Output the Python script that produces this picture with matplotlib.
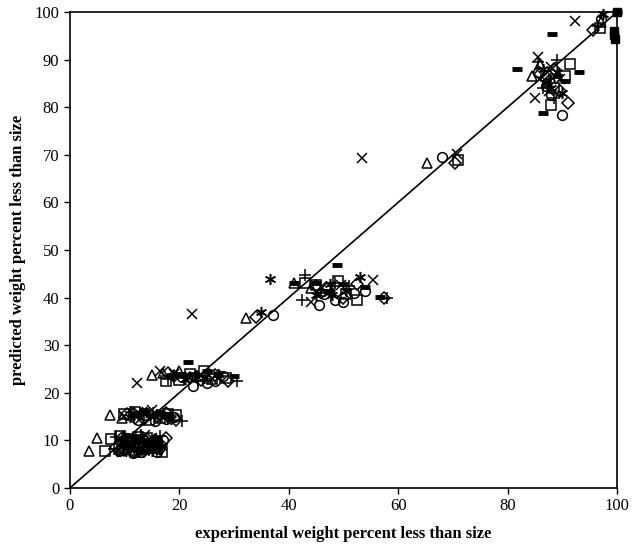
import numpy as np
import matplotlib
matplotlib.use("Agg")
import matplotlib.pyplot as plt

plt.rcParams['font.family'] = ['Liberation Serif', 'DejaVu Serif']

# experimental vs predicted weight percent less than size, one list pair per series
diamond_x = [10, 13.5, 16.5, 8.5, 11.5, 14.8, 11, 14, 17.5, 9.5, 12.8, 15.5,
             12, 16, 19.5, 10.5, 13.5, 17.5, 19, 24, 29, 18, 22, 26.5, 34,
             45, 50, 57.5, 47, 52.5, 70.4, 86, 89.5, 91, 87.5, 88.5, 95.6]
diamond_y = [8.0, 7.8, 8.2, 8.6, 7.6, 8.8, 10.2, 9.8, 10.5, 10.6, 9.6, 10.2,
             14.8, 15.2, 14.2, 15.6, 14.6, 15.8, 23.5, 22.8, 22.5, 24.2, 23.2, 23.8, 36.0,
             42.5, 40.0, 40.0, 41.8, 42.8, 68.3, 87, 83.5, 81, 85.5, 88, 96.2]

square_x = [6.5, 12, 15.5, 9.5, 13.8, 16.8, 7.5, 12.5, 16, 10.8, 14.2, 9.2,
            10, 14.5, 18, 12, 16.5, 19.5, 17.5, 22, 26, 20, 24.5, 28.5,
            43, 49, 52.5, 45, 50.5, 71, 88.5, 90.5, 88, 91.5, 87, 96.9]
square_y = [7.8, 7.5, 8.5, 7.9, 8.4, 7.6, 10.3, 10.8, 9.5, 9.8, 10.6, 11,
            15.5, 14.2, 15.5, 15.9, 14.8, 15.3, 22.5, 24, 23, 22.8, 24.6, 23.1,
            43, 43.5, 39.5, 42.6, 40.8, 68.9, 84, 86.5, 80.5, 89, 86.5, 96.6]

triangle_x = [3.5, 9, 12, 15.8, 5, 10, 11.8, 15, 7.3, 11.5, 9.5, 14,
              15, 20, 17, 23, 32.2, 41, 46, 44, 65.3, 84.5, 86, 97]
triangle_y = [7.8, 8.5, 8.1, 8.4, 10.5, 11, 10.3, 9.9, 15.3, 15.8, 14.8, 15.4,
              23.7, 24.5, 24.1, 23.6, 35.7, 43, 41.5, 42.1, 68.3, 86.5, 89, 98]

cross_x = [11, 14, 9.5, 13, 16, 9, 15, 11.8, 13.8, 12.5, 17, 10, 15,
           12.2, 16.5, 24, 19, 22, 26, 22.3, 47, 55.4, 44, 46, 49.5,
           53.4, 70.7, 85.5, 85, 88, 87.5, 89.5, 92.3]
cross_y = [8.2, 8.8, 7.5, 8.6, 8.1, 10, 10.5, 9.8, 11.1, 16, 15, 15.2, 16.3,
           22, 24.5, 23.8, 24, 23.4, 22.9, 36.6, 41, 43.7, 39, 42.3, 42.6,
           69.3, 70.2, 90.5, 82, 88.5, 83.5, 86, 98.1]

star_x = [12.5, 15, 10.2, 14, 16.8, 10.5, 13, 12, 15.5, 14, 18.5, 11, 16,
          21, 27, 18.8, 24.5, 35, 36.6, 48, 53, 50.5, 45, 47.5,
          87, 89, 90, 88, 86.5, 97.5]
star_y = [8.0, 7.7, 8.2, 9, 8.6, 9.5, 10.5, 10.8, 10, 16, 14.5, 15, 15.6,
          23, 24, 23.5, 23.2, 37, 43.9, 40.5, 44.3, 41.5, 40.5, 42.8,
          85, 87.5, 83, 84, 88, 99.5]

circle_x = [11.5, 16, 9, 13, 15, 13.5, 17, 10.5, 15.8, 15.5, 19, 12.5, 17.5,
            22.5, 28, 25, 20.5, 26.5, 37.1, 45.5, 52, 54, 48.5, 46.5, 50,
            68, 85.5, 90, 88, 87, 97]
circle_y = [7.3, 7.5, 7.8, 7.6, 8.6, 9, 10, 10.6, 9.4, 14, 15, 14.3, 14.5,
            21.5, 23.5, 22, 23.3, 22.4, 36.3, 38.5, 41, 41.5, 39.5, 40.8, 39,
            69.5, 87.5, 78.4, 82.5, 84.5, 98.5]

plus_x = [10.5, 14.5, 8, 12.5, 16, 8.5, 16.5, 10, 13, 13, 20.5, 11.2, 15.2, 18,
          18, 23.5, 30.5, 21, 27.5, 42.4, 43, 51, 58, 46, 48.5,
          85.5, 87.5, 89, 86.5, 88.5, 96.5]
plus_y = [8.8, 8, 8.3, 9.2, 9, 10.8, 11, 10, 11.2, 15.5, 14, 16, 15.8, 14.8,
          23, 22.5, 22.5, 23.2, 23.6, 39.5, 44.7, 42.5, 40, 41, 43,
          89.5, 86, 90, 84, 82, 97]

dash_x = [12, 15, 10, 13.5, 16.5, 11, 14, 9.8, 12.8, 16, 13.5, 16.5, 11.5, 15, 18,
          21.6, 20, 25, 30, 18.5, 22.5, 27, 48.8, 56.7, 54, 41, 45, 47.5, 50,
          81.7, 88.1, 86.5, 93, 90.5, 89, 100]
dash_y = [8.3, 9, 8.8, 7.5, 8.8, 11, 10, 10.4, 10.2, 10.8, 16.3, 16, 15.5, 15.2, 15.6,
          26.5, 24, 24.5, 23.5, 23.6, 23.9, 23.8, 46.8, 40.1, 42.2, 43, 43, 41.5, 42.8,
          88, 95.4, 78.8, 87.5, 85.5, 86.5, 100]

filled_x = [99.4, 99.6, 99.5, 100]
filled_y = [95.2, 94.4, 96.0, 100]

fig = plt.figure(figsize=(6.4, 5.49), dpi=100)
ax = fig.add_axes([0.109, 0.111, 0.855, 0.867])

ax.plot([0, 100], [0, 100], color='black', lw=1.2, zorder=1)

open_style = dict(linestyle='none', markerfacecolor='none', markeredgecolor='black',
                  markeredgewidth=1.1, clip_on=False, zorder=3)
ax.plot(diamond_x, diamond_y, marker='D', markersize=6, **open_style)
ax.plot(square_x, square_y, marker='s', markersize=6.5, **open_style)
ax.plot(triangle_x, triangle_y, marker='^', markersize=7, **open_style)
ax.plot(cross_x, cross_y, marker='x', markersize=7, **open_style)
ax.plot(star_x, star_y, marker=(6, 2, 0), markersize=8, **open_style)
ax.plot(circle_x, circle_y, marker='o', markersize=7, **open_style)
ax.plot(plus_x, plus_y, marker='+', markersize=8, **open_style)
ax.plot(dash_x, dash_y, linestyle='none', marker='_', markersize=7, markeredgewidth=3.5,
        color='black', clip_on=False, zorder=3)
ax.plot(filled_x, filled_y, linestyle='none', marker='s', markersize=6, color='black',
        clip_on=False, zorder=3)

ax.set_xlim(0, 100)
ax.set_ylim(0, 100)
ax.set_xticks(np.arange(0, 101, 20))
ax.set_yticks(np.arange(0, 101, 10))
ax.tick_params(direction='out', length=4, width=1, labelsize=12, colors='black')
for s in ax.spines.values():
    s.set_linewidth(1.2)

ax.set_xlabel('experimental weight percent less than size', fontsize=12, fontweight='bold', labelpad=8)
ax.set_ylabel('predicted weight percent less than size', fontsize=12, fontweight='bold', labelpad=6)

fig.savefig('out.png', dpi=100)
